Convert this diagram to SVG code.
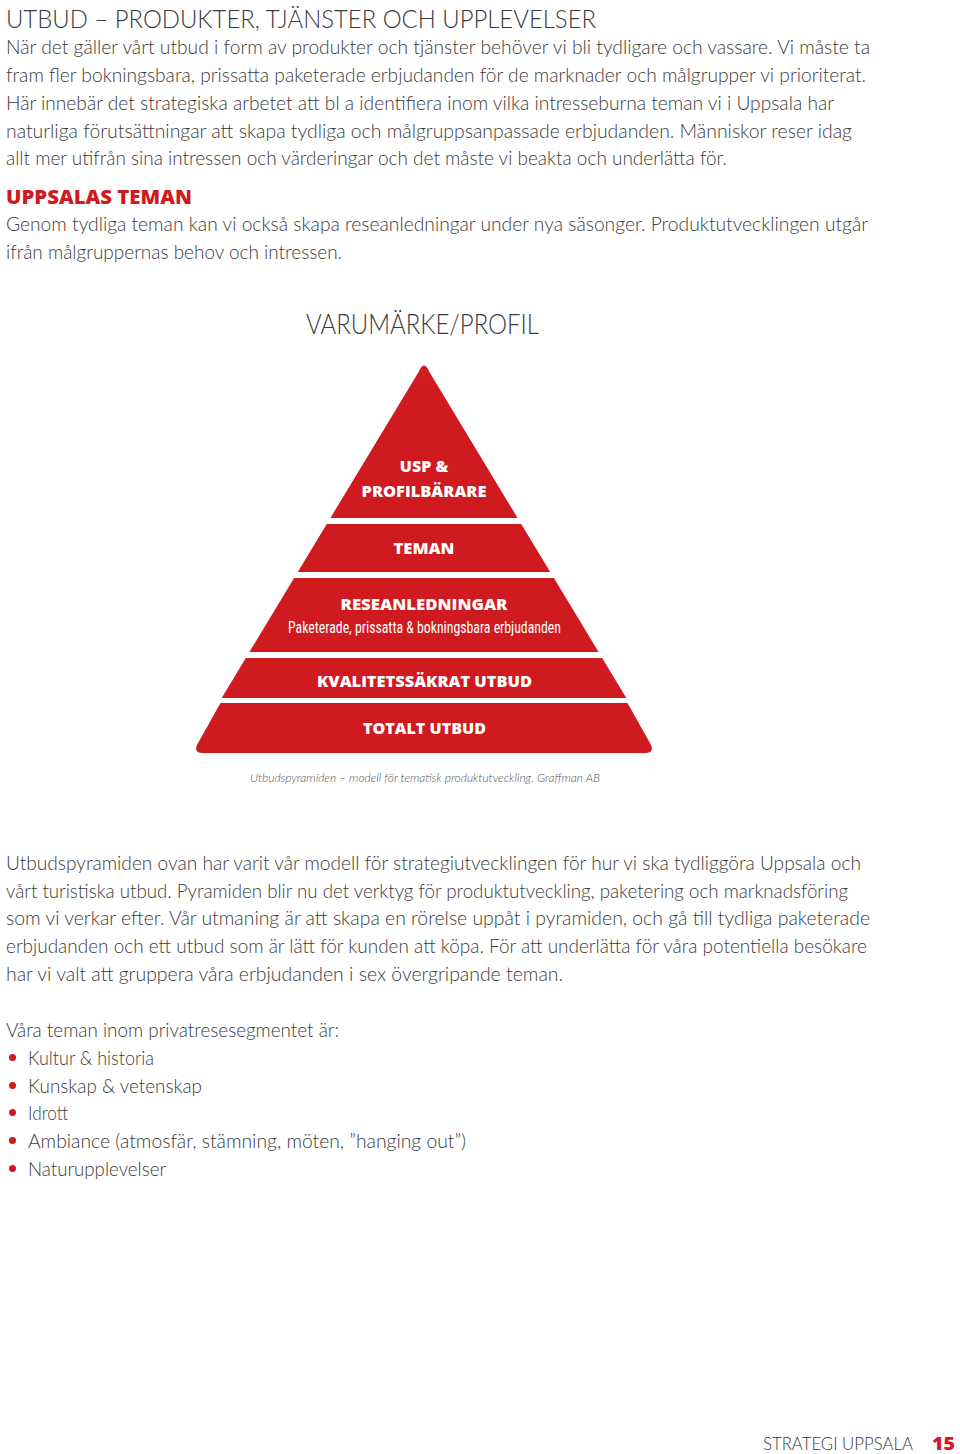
<svg xmlns="http://www.w3.org/2000/svg" width="960" height="1454" viewBox="0 0 960 1454">
<style>
.t{font-family:Lato,"Open Sans","Liberation Sans",sans-serif;font-weight:300;fill:#3b3b3b}
.b{font-size:19px}
.h{font-size:26px}
.red{fill:#cf1a1f}
.band{fill:#cf1a1f}
.lbl{font-family:"Open Sans","Liberation Sans",sans-serif;font-weight:800;fill:#ffffff;font-size:16px;text-anchor:middle}
.cond{font-family:"Liberation Sans Narrow","Roboto Condensed","Liberation Sans",sans-serif;font-weight:400;fill:#ffffff;font-size:16px;text-anchor:middle}
.cap{font-family:Lato,"Open Sans","Liberation Sans",sans-serif;font-style:italic;font-weight:300;fill:#555555;font-size:11.5px}
.bold{font-family:"Open Sans","Liberation Sans",sans-serif;font-weight:800}
</style>
<rect width="960" height="1454" fill="#ffffff"/>

<g id="intro">
<text class="t h" x="6" y="28" textLength="590" lengthAdjust="spacingAndGlyphs">UTBUD – PRODUKTER, TJÄNSTER OCH UPPLEVELSER</text>
<text class="t b" x="6" y="54" textLength="864" lengthAdjust="spacingAndGlyphs">När det gäller vårt utbud i form av produkter och tjänster behöver vi bli tydligare och vassare. Vi måste ta</text>
<text class="t b" x="6" y="82" textLength="860" lengthAdjust="spacingAndGlyphs">fram fler bokningsbara, prissatta paketerade erbjudanden för de marknader och målgrupper vi prioriterat.</text>
<text class="t b" x="6" y="110" textLength="828" lengthAdjust="spacingAndGlyphs">Här innebär det strategiska arbetet att bl a identifiera inom vilka intresseburna teman vi i Uppsala har</text>
<text class="t b" x="6" y="138" textLength="846" lengthAdjust="spacingAndGlyphs">naturliga förutsättningar att skapa tydliga och målgruppsanpassade erbjudanden. Människor reser idag</text>
<text class="t b" x="6" y="165" textLength="721" lengthAdjust="spacingAndGlyphs">allt mer utifrån sina intressen och värderingar och det måste vi beakta och underlätta för.</text>
</g>

<g id="uppsalas-teman">
<text class="bold red" x="6" y="204" font-size="20" textLength="186" lengthAdjust="spacingAndGlyphs">UPPSALAS TEMAN</text>
<text class="t b" x="6" y="231" textLength="862" lengthAdjust="spacingAndGlyphs">Genom tydliga teman kan vi också skapa reseanledningar under nya säsonger. Produktutvecklingen utgår</text>
<text class="t b" x="6" y="259" textLength="336" lengthAdjust="spacingAndGlyphs">ifrån målgruppernas behov och intressen.</text>
</g>

<g id="pyramid-title">
<text class="t" x="306" y="334" font-size="28" textLength="233" lengthAdjust="spacingAndGlyphs">VARUMÄRKE/PROFIL</text>
</g>

<g id="band-usp">
<path class="band" d="M418.6,372 Q424,359 429.4,372 L517.6,518 L330.4,518 Z"/>
<text class="lbl" x="424" y="472">USP &amp;</text>
<text class="lbl" x="424" y="497" textLength="125" lengthAdjust="spacingAndGlyphs">PROFILBÄRARE</text>
</g>

<g id="band-teman">
<path class="band" d="M326.8,524 L521.2,524 L550.2,572 L297.8,572 Z"/>
<text class="lbl" x="424" y="554" textLength="61" lengthAdjust="spacingAndGlyphs">TEMAN</text>
</g>

<g id="band-reseanledningar">
<path class="band" d="M294.1,578 L553.9,578 L598.6,652 L249.4,652 Z"/>
<text class="lbl" x="424" y="610" textLength="167" lengthAdjust="spacingAndGlyphs">RESEANLEDNINGAR</text>
<text class="cond" x="424.5" y="633" textLength="273" lengthAdjust="spacingAndGlyphs">Paketerade, prissatta &amp; bokningsbara erbjudanden</text>
</g>

<g id="band-kvalitet">
<path class="band" d="M245.8,658 L602.2,658 L626.3,698 L221.7,698 Z"/>
<text class="lbl" x="424.5" y="687" textLength="215" lengthAdjust="spacingAndGlyphs">KVALITETSSÄKRAT UTBUD</text>
</g>

<g id="band-totalt">
<path class="band" d="M220.5,703 L627.5,703 L650.5,744 Q655,753 645,753 L203,753 Q193,753 197.5,744 Z"/>
<text class="lbl" x="424.5" y="734" textLength="123" lengthAdjust="spacingAndGlyphs">TOTALT UTBUD</text>
</g>

<g id="caption">
<text class="cap" x="250" y="782" textLength="350" lengthAdjust="spacingAndGlyphs">Utbudspyramiden – modell för tematisk produktutveckling. Graffman AB</text>
</g>

<g id="body">
<text class="t b" x="6" y="870" textLength="855" lengthAdjust="spacingAndGlyphs">Utbudspyramiden ovan har varit vår modell för strategiutvecklingen för hur vi ska tydliggöra Uppsala och</text>
<text class="t b" x="6" y="898" textLength="842" lengthAdjust="spacingAndGlyphs">vårt turistiska utbud. Pyramiden blir nu det verktyg för produktutveckling, paketering och marknadsföring</text>
<text class="t b" x="6" y="925" textLength="864" lengthAdjust="spacingAndGlyphs">som vi verkar efter. Vår utmaning är att skapa en rörelse uppåt i pyramiden, och gå till tydliga paketerade</text>
<text class="t b" x="6" y="953" textLength="861" lengthAdjust="spacingAndGlyphs">erbjudanden och ett utbud som är lätt för kunden att köpa. För att underlätta för våra potentiella besökare</text>
<text class="t b" x="6" y="981" textLength="557" lengthAdjust="spacingAndGlyphs">har vi valt att gruppera våra erbjudanden i sex övergripande teman.</text>
</g>

<g id="theme-list">
<text class="t b" x="6" y="1037" textLength="333" lengthAdjust="spacingAndGlyphs">Våra teman inom privatresesegmentet är:</text>
<circle class="red" cx="12.5" cy="1057.5" r="3.5"/>
<text class="t b" x="28" y="1065" textLength="126" lengthAdjust="spacingAndGlyphs">Kultur &amp; historia</text>
<circle class="red" cx="12.5" cy="1085.5" r="3.5"/>
<text class="t b" x="28" y="1093" textLength="174" lengthAdjust="spacingAndGlyphs">Kunskap &amp; vetenskap</text>
<circle class="red" cx="12.5" cy="1112.5" r="3.5"/>
<text class="t b" x="28" y="1120" textLength="40" lengthAdjust="spacingAndGlyphs">Idrott</text>
<circle class="red" cx="12.5" cy="1140.5" r="3.5"/>
<text class="t b" x="28" y="1148" textLength="438" lengthAdjust="spacingAndGlyphs">Ambiance (atmosfär, stämning, möten, ”hanging out”)</text>
<circle class="red" cx="12.5" cy="1168.5" r="3.5"/>
<text class="t b" x="28" y="1176" textLength="138" lengthAdjust="spacingAndGlyphs">Naturupplevelser</text>
</g>

<g id="footer">
<text class="t" x="763" y="1450" font-size="18" textLength="150" lengthAdjust="spacingAndGlyphs">STRATEGI UPPSALA</text>
<text class="bold red" x="932" y="1450" font-size="18" textLength="23" lengthAdjust="spacingAndGlyphs">15</text>
</g>
</svg>
